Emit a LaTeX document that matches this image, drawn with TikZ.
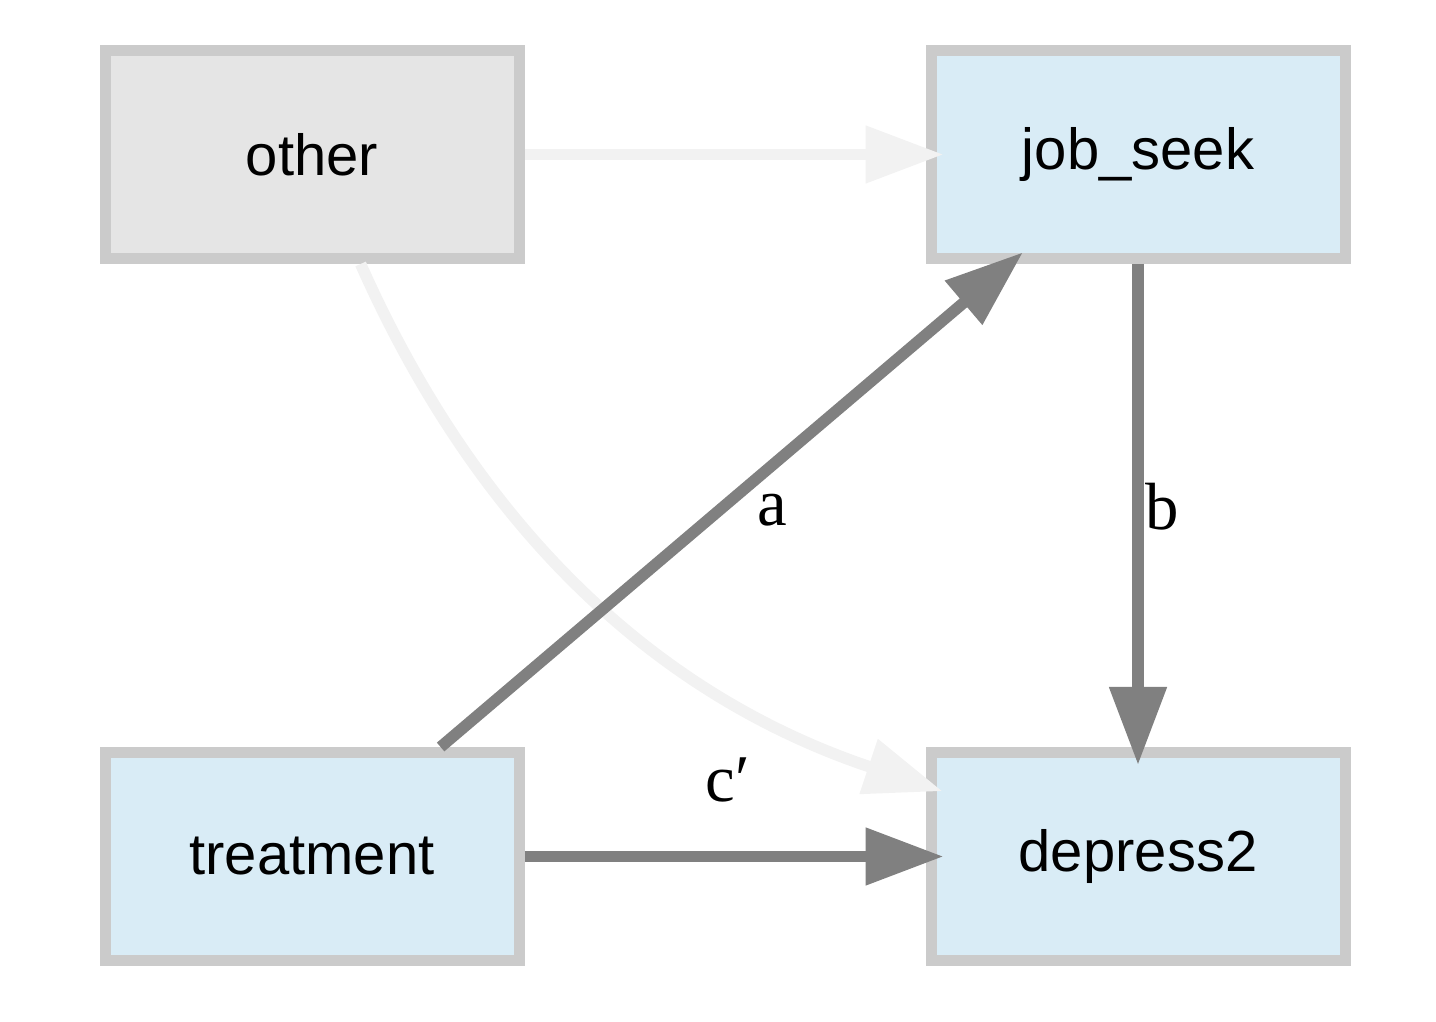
\documentclass[tikz,border=0pt]{standalone}
\usepackage{fontspec}
\setmainfont{Liberation Sans}
\newfontfamily\lblfont{Liberation Serif}
\usetikzlibrary{arrows.meta}

\definecolor{boxline}{HTML}{CBCBCB}
\definecolor{greyfill}{HTML}{E5E5E5}
\definecolor{bluefill}{HTML}{D9ECF6}
\definecolor{faint}{HTML}{F2F2F2}
\definecolor{strong}{HTML}{808080}

\begin{document}
\begin{tikzpicture}
        [x=0.1mm, y=-0.1mm,
         var/.style={rectangle, draw=boxline, line width=1.1mm, minimum width=41.4mm, minimum height=20.8mm,
                     font=\fontsize{16.5}{20}\selectfont, text=black},
         grey/.style={var, fill=greyfill},
         blue/.style={var, fill=bluefill},
         path/.style={line width=1.15mm, shorten >=-1.8mm, -{Triangle[length=7.8mm, width=5.5mm]}},
         weak/.style={path, draw=faint, faint},
         main/.style={path, draw=strong, strong},
         coef/.style={font=\lblfont\fontsize{19}{22}\selectfont, text=black}]
        \useasboundingbox (0,0) rectangle (1436,1022);
        % variables
        \node (other) at (312,154.5) [grey] {other};
        \node (jobseek) at (1138,154.5) [blue] {job\_seek};
        \node (treatment) at (312,856.5) [blue] {treatment};
        \node (depress) at (1138,856.5) [blue] {depress2};
        % paths
        \draw[weak] (other) -- (jobseek);
        \draw[weak] (other) .. controls (470,510) and (640,690) .. (depress);
        \draw[main] (treatment) -- (jobseek);
        \draw[main] (jobseek) -- (depress);
        \draw[main] (treatment) -- (depress);
        % coefficients
        \node (a) at (772,510) [coef] {a};
        \node (b) at (1162,507) [coef] {b};
        \node (c) at (728,780) [coef] {c′};
\end{tikzpicture}
\end{document}
